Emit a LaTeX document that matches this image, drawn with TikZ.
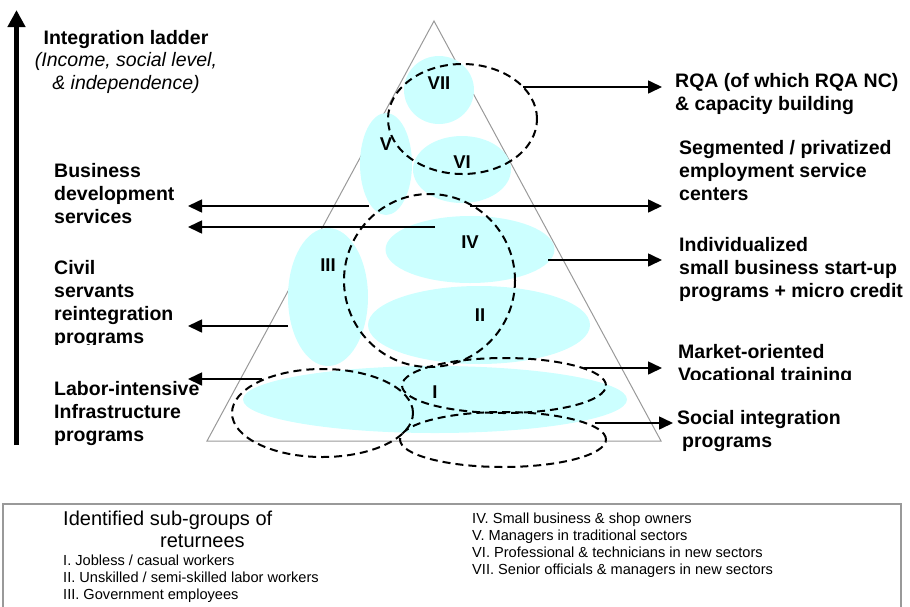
\documentclass[tikz,border=0pt]{standalone}
\usepackage{fontspec}
\setmainfont{Liberation Sans}
\usetikzlibrary{arrows.meta,shapes.geometric}
\definecolor{groupfill}{HTML}{CCFFFF}
\definecolor{framegrey}{HTML}{999999}

\begin{document}
\begin{tikzpicture}[x=1pt,y=-1pt,
  group/.style={ellipse, fill=groupfill, draw=none, inner sep=0pt},
  ring/.style={ellipse, draw=black, line width=2pt, dash pattern=on 8pt off 5pt, inner sep=0pt},
  roman/.style={font=\fontsize{18.5}{22}\selectfont\bfseries, inner sep=0pt, anchor=base},
  sidetext/.style={font=\fontsize{19.5}{23}\selectfont\bfseries, align=left, inner sep=0pt, anchor=base west},
  conn/.style={line width=1.6pt, -{Triangle[length=14pt,width=13pt]}},
  legendhead/.style={font=\fontsize{20}{22}\selectfont, inner sep=0pt, anchor=base west},
  legenditem/.style={font=\fontsize{14.6}{17}\selectfont, align=left, inner sep=0pt, anchor=base west},
]
\useasboundingbox (0,0) rectangle (910,606);

% pyramid outline
\coordinate (apex) at (434,21);
\coordinate (baseL) at (207,441);
\coordinate (baseR) at (661,441);
\draw[framegrey, line width=1pt] (apex) -- (baseL) -- (baseR) -- cycle;

% sub-group areas
\node[group, minimum width=70pt,  minimum height=68pt]  (g7) at (439,90) {};
\node[group, minimum width=52pt,  minimum height=102pt] (g5) at (386,164) {};
\node[group, minimum width=98pt,  minimum height=67pt]  (g6) at (462,169.5) {};
\node[group, minimum width=169pt, minimum height=67pt]  (g4) at (470,249.5) {};
\node[group, minimum width=80pt,  minimum height=138pt] (g3) at (328,297) {};
\node[group, minimum width=222pt, minimum height=78pt]  (g2) at (479,325) {};
\node[group, minimum width=384pt, minimum height=67pt]  (g1) at (435,399.5) {};

% roman numerals
\node[roman] (n7) at (439,89)  {VII};
\node[roman] (n5) at (386,150) {V};
\node[roman] (n6) at (462,168) {VI};
\node[roman] (n4) at (470,248) {IV};
\node[roman] (n3) at (328,271) {III};
\node[roman] (n2) at (480,321) {II};
\node[roman] (n1) at (435,398) {I};

% dashed programme scopes
\node[ring, minimum width=149pt, minimum height=110pt] (r1) at (462.5,119) {};
\node[ring, minimum width=171pt, minimum height=173pt] (r2) at (429.5,280.5) {};
\node[ring, minimum width=181pt, minimum height=88pt]  (r3) at (322.5,413) {};
\node[ring, minimum width=204pt, minimum height=55pt]  (r4) at (504,385.5) {};
\node[ring, minimum width=206pt, minimum height=55pt]  (r5) at (503,439.5) {};

% integration ladder arrow
\coordinate (ladderBot) at (16.5,445);
\coordinate (ladderTop) at (16.5,10);
\draw[line width=5pt, -{Triangle[length=17pt,width=17pt]}] (ladderBot) -- (ladderTop);

% connectors
\coordinate (s1) at (523,87);   \coordinate (e1) at (662,87);
\coordinate (s2) at (369,206);  \coordinate (e2) at (188,206);
\coordinate (s3) at (470,206);  \coordinate (e3) at (662,206);
\coordinate (s4) at (435,227);  \coordinate (e4) at (188,227);
\coordinate (s5) at (548,260);  \coordinate (e5) at (662,260);
\coordinate (s6) at (288,326);  \coordinate (e6) at (188,326);
\coordinate (s7) at (262,379);  \coordinate (e7) at (188,379);
\coordinate (s8) at (584,368);  \coordinate (e8) at (662,368);
\coordinate (s9) at (595,423);  \coordinate (e9) at (673,423);
\foreach \i in {1,...,9} { \draw[conn] (s\i) -- (e\i); }

% left side texts (anchored at the baseline of the last line)
\node[font=\fontsize{19.5}{22.5}\selectfont, align=center, inner sep=0pt, anchor=base] (ladder) at (126,89)
  {\bfseries Integration ladder\\\itshape (Income, social level,\\\itshape \& independence)};
\node[sidetext] (bds) at (54,223) {Business\\development\\services};
\begin{scope}
  \clip (40,250) rectangle (300,344.5);
  \node[sidetext] (civil) at (54,343) {Civil\\servants\\reintegration\\programs};
\end{scope}
\node[sidetext] (labor) at (54,441) {Labor-intensive\\Infrastructure\\programs};

% right side texts
\node[sidetext] (rqa) at (675,110) {RQA (of which RQA NC)\\\& capacity building};
\node[sidetext] (seg) at (679,200) {Segmented / privatized\\employment service\\centers};
\node[sidetext] (ind) at (679,297) {Individualized\\small business start-up\\programs + micro credit};
\begin{scope}
  \clip (670,330) rectangle (910,379.5);
  \node[sidetext] (market) at (678,381) {Market-oriented\\Vocational training};
\end{scope}
\node[sidetext] (social) at (677,447) {Social integration\\\hspace*{5pt}programs};

% legend frame
\coordinate (k1) at (3,610);
\coordinate (k2) at (3,504);
\coordinate (k3) at (901,504);
\coordinate (k4) at (901,610);
\draw[framegrey, line width=2pt] (k1) -- (k2) -- (k3) -- (k4);

% legend texts
\node[legendhead] (lh1) at (63,525) {Identified sub-groups of};
\node[legendhead] (lh2) at (160,547) {returnees};
\node[legenditem] (li1) at (63,599) {I. Jobless / casual workers\\II. Unskilled / semi-skilled labor workers\\III. Government employees};
\node[legenditem] (li2) at (472,574) {IV. Small business \& shop owners\\V. Managers in traditional sectors\\VI. Professional \& technicians in new sectors\\VII. Senior officials \& managers in new sectors};
\end{tikzpicture}
\end{document}
